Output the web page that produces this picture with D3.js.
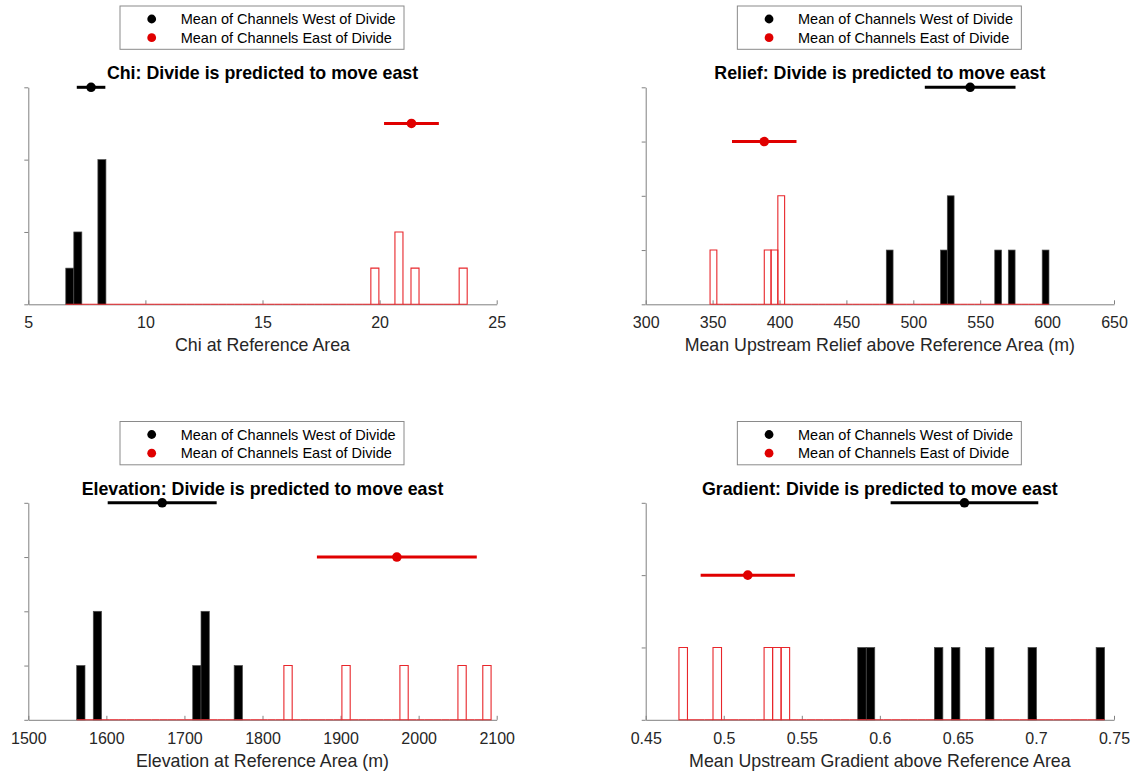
<!DOCTYPE html>
<html>
<head>
<meta charset="utf-8">
<script src="https://cdn.jsdelivr.net/npm/d3@7"></script>
<style>
  body { margin: 0; background: #fff; }
  svg { display: block; font-family: "Liberation Sans", Arial, Helvetica, sans-serif; }
</style>
</head>
<body>
<svg id="chart" width="1133" height="773"></svg>
<script>
// ---- Channel values at the reference area, west and east of the divide ----
const chiWest = [6.60, 7.05, 7.20, 8.02, 8.10, 8.18, 8.26];
const chiEast = [19.80, 20.75, 20.90, 21.50, 23.74];
const chiMean = [7.68, 21.36];      // [west, east]
const chiSpread = [0.61, 1.17];     // half-width of the horizontal bar
const chiMarkY = [6, 5];            // count level at which the means are drawn
const chiXTicks = [5, 10, 15, 20, 25];
const chiYTicks = [0, 2, 4, 6];

const reliefWest = [482, 523, 527, 529, 563, 573, 601.4];
const reliefEast = [348.1, 391, 396, 400, 402];
const reliefMean = [542.5, 388.6];
const reliefSpread = [33.9, 24.1];
const reliefMarkY = [4, 3];
const reliefXTicks = [300, 350, 400, 450, 500, 550, 600, 650];
const reliefYTicks = [0, 1, 2, 3, 4];

const elevWest = [1562, 1587, 1591, 1716, 1725, 1728, 1769];
const elevEast = [1833, 1907, 1981, 2056, 2092.8];
const elevMean = [1671.5, 1972.1];
const elevSpread = [69.8, 102.4];
const elevMarkY = [4, 3];
const elevXTicks = [1500, 1600, 1700, 1800, 1900, 2000, 2100];
const elevYTicks = [0, 1, 2, 3, 4];

const gradWest = [0.5885, 0.594, 0.6375, 0.6485, 0.670, 0.6975, 0.744];
const gradEast = [0.4713, 0.496, 0.529, 0.534, 0.539];
const gradMean = [0.6542, 0.5154];
const gradSpread = [0.0473, 0.0302];
const gradMarkY = [3, 2];
const gradXTicks = [0.45, 0.5, 0.55, 0.6, 0.65, 0.7, 0.75];
const gradYTicks = [0, 1, 2, 3];

const panelTitles = [
  "Chi: Divide is predicted to move east",
  "Relief: Divide is predicted to move east",
  "Elevation: Divide is predicted to move east",
  "Gradient: Divide is predicted to move east"
];
const panelXLabels = [
  "Chi at Reference Area",
  "Mean Upstream Relief above Reference Area (m)",
  "Elevation at Reference Area (m)",
  "Mean Upstream Gradient above Reference Area"
];
const legendLabels = ["Mean of Channels West of Divide", "Mean of Channels East of Divide"];
const binCount = 50;

// ---- styling ----
const WEST_COLOR = "#000000";
const EAST_COLOR = "#e00000";
const EAST_EDGE = "#e8262b";
const AXIS_COLOR = "#808080";
const TEXT_COLOR = "#262626";

const svg = d3.select("#chart");

const panels = [
  { west: chiWest, east: chiEast, mean: chiMean, spread: chiSpread, markY: chiMarkY,
    xTicks: chiXTicks, yTicks: chiYTicks, left: 28.3, right: 496.7, top: 87.3, bottom: 304.3 },
  { west: reliefWest, east: reliefEast, mean: reliefMean, spread: reliefSpread, markY: reliefMarkY,
    xTicks: reliefXTicks, yTicks: reliefYTicks, left: 645.7, right: 1114, top: 87.3, bottom: 304.3 },
  { west: elevWest, east: elevEast, mean: elevMean, spread: elevSpread, markY: elevMarkY,
    xTicks: elevXTicks, yTicks: elevYTicks, left: 28.3, right: 496.7, top: 502.8, bottom: 719.8 },
  { west: gradWest, east: gradEast, mean: gradMean, spread: gradSpread, markY: gradMarkY,
    xTicks: gradXTicks, yTicks: gradYTicks, left: 645.7, right: 1114, top: 502.8, bottom: 719.8 }
];

// Equal-width bins spanning the full range of both groups
function histogram(values, lo, hi) {
  const w = (hi - lo) / binCount;
  const thresholds = d3.range(1, binCount).map(i => lo + i * w);
  return d3.bin().domain([lo, hi]).thresholds(thresholds)(values);
}

panels.forEach((p, i) => {
  const g = svg.append("g");
  const x = d3.scaleLinear()
    .domain(d3.extent(p.xTicks))
    .range([p.left, p.right]);
  const y = d3.scaleLinear()
    .domain(d3.extent(p.yTicks))
    .range([p.bottom, p.top]);
  const cx = (p.left + p.right) / 2;

  // legend
  const lg = g.append("g").attr("transform", `translate(${cx - 142.5},${p.top - 81.3})`);
  lg.append("rect")
    .attr("width", 284).attr("height", 43.3)
    .attr("fill", "#fff").attr("stroke", "#8a8a8a").attr("stroke-width", 1);
  legendLabels.forEach((lab, k) => {
    const ry = 13 + k * 18.7;
    lg.append("circle").attr("cx", 31.7).attr("cy", ry).attr("r", 4.4)
      .attr("fill", k === 0 ? WEST_COLOR : EAST_COLOR);
    lg.append("text").attr("x", 60.7).attr("y", ry + 5.1)
      .attr("font-size", 14.5).attr("fill", "#000").text(lab);
  });

  // title
  g.append("text")
    .attr("x", cx).attr("y", p.top - 7.9)
    .attr("text-anchor", "middle")
    .attr("font-size", 17.8).attr("font-weight", "bold").attr("fill", "#000")
    .text(panelTitles[i]);

  // axes
  const xAxis = d3.axisBottom(x).tickValues(p.xTicks).tickFormat(d => String(d))
    .tickSize(-4).tickSizeOuter(0).tickPadding(12.5);
  const gx = g.append("g").attr("transform", `translate(0,${p.bottom})`).call(xAxis);
  gx.select(".domain").attr("stroke", AXIS_COLOR);
  gx.selectAll(".tick line").attr("stroke", AXIS_COLOR);
  gx.selectAll(".tick text").attr("fill", TEXT_COLOR).attr("font-size", 16)
    .attr("font-family", "Liberation Sans, Arial, sans-serif");

  const yAxis = d3.axisLeft(y).tickValues(p.yTicks).tickFormat("").tickSize(4).tickSizeOuter(0);
  const gy = g.append("g").attr("transform", `translate(${p.left},0)`).call(yAxis);
  gy.select(".domain").attr("stroke", AXIS_COLOR);
  gy.selectAll(".tick line").attr("stroke", AXIS_COLOR);

  // x label
  g.append("text")
    .attr("x", cx).attr("y", p.bottom + 46.7)
    .attr("text-anchor", "middle")
    .attr("font-size", 17.8).attr("fill", TEXT_COLOR)
    .text(panelXLabels[i]);

  // histograms
  const all = p.west.concat(p.east);
  const lo = d3.min(all), hi = d3.max(all);
  const westBins = histogram(p.west, lo, hi);
  const eastBins = histogram(p.east, lo, hi);

  g.append("g").selectAll("rect")
    .data(westBins.filter(b => b.length > 0))
    .join("rect")
    .attr("x", b => x(b.x0))
    .attr("width", b => x(b.x1) - x(b.x0))
    .attr("y", b => y(b.length))
    .attr("height", b => y(0) - y(b.length))
    .attr("fill", WEST_COLOR)
    .attr("stroke", "#4a4a4a")
    .attr("stroke-width", 0.7);

  g.append("g").selectAll("path")
    .data(eastBins)
    .join("path")
    .attr("d", b => `M${x(b.x0)},${y(0)}V${y(b.length)}H${x(b.x1)}V${y(0)}Z`)
    .attr("fill", "none")
    .attr("stroke", EAST_EDGE)
    .attr("stroke-width", 1.1);

  // group means with spread bars
  const colors = [WEST_COLOR, EAST_COLOR];
  p.mean.forEach((m, k) => {
    g.append("line")
      .attr("x1", x(m - p.spread[k])).attr("x2", x(m + p.spread[k]))
      .attr("y1", y(p.markY[k])).attr("y2", y(p.markY[k]))
      .attr("stroke", colors[k]).attr("stroke-width", 3);
    g.append("circle")
      .attr("cx", x(m)).attr("cy", y(p.markY[k])).attr("r", 4.8)
      .attr("fill", colors[k]);
  });
});
</script>
</body>
</html>
